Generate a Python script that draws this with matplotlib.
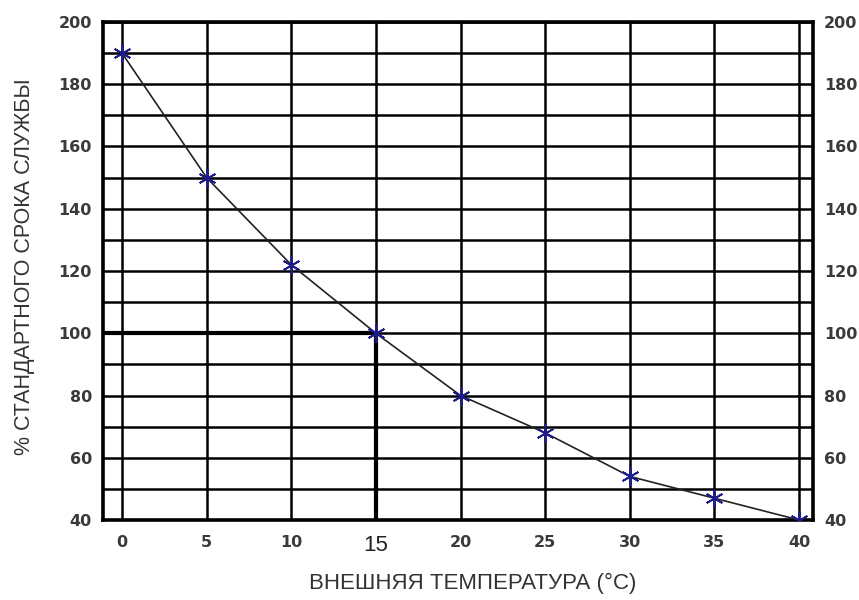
import matplotlib
matplotlib.use("Agg")
import matplotlib.pyplot as plt
import numpy as np

temperature = [0, 5, 10, 15, 20, 25, 30, 35, 40]
service_life_pct = [190, 150, 122, 100, 80, 68, 54, 47, 40]
x_ticks = [0, 5, 10, 15, 20, 25, 30, 35, 40]
y_ticks = [40, 60, 80, 100, 120, 140, 160, 180, 200]
y_grid = list(range(40, 201, 10))
ref_temp = 15
ref_pct = 100

W, H = 859, 600
fig = plt.figure(figsize=(W / 100, H / 100), dpi=100)
left, right, top, bottom = 103, 813, 22, 520
ax = fig.add_axes([left / W, 1 - bottom / H, (right - left) / W, (bottom - top) / H])

x0px, x40px = 122, 799
ppu = (x40px - x0px) / 40
ax.set_xlim((left - x0px) / ppu, (right - x0px) / ppu)
ax.set_ylim(40, 200)

for s in ax.spines.values():
    s.set_linewidth(2.6)
    s.set_color("black")

for xv in x_ticks:
    ax.axvline(xv, color="black", lw=1.8, zorder=1)
for yv in y_grid:
    ax.axhline(yv, color="black", lw=1.8, zorder=1)

# reference lines at 15 °C / 100 %
ax.plot([ax.get_xlim()[0], ref_temp], [ref_pct, ref_pct], color="black", lw=3, zorder=2,
        solid_capstyle="butt")
ax.plot([ref_temp, ref_temp], [40, ref_pct], color="black", lw=3, zorder=2,
        solid_capstyle="butt")

ax.plot(temperature, service_life_pct, color="#222222", lw=1.2, zorder=3)
ax.plot(temperature, service_life_pct, linestyle="none", marker=(6, 2, 0), ms=13,
        mew=1.3, color="#1c1c8a", zorder=4)

ax.set_xticks(x_ticks)
ax.set_xticklabels([str(v) for v in x_ticks])
ax.set_yticks(y_ticks)
ax.set_yticklabels([str(v) for v in y_ticks])
ax.tick_params(axis="both", length=0)
ax.tick_params(axis="y", left=True, right=True, labelleft=True, labelright=True, pad=8)
ax.tick_params(axis="x", pad=11)
for t in ax.yaxis.get_major_ticks():
    for lab in (t.label1, t.label2):
        lab.set_fontsize(11.5)
        lab.set_fontweight("bold")
        lab.set_color("#3a3a3a")
for t, v in zip(ax.xaxis.get_major_ticks(), x_ticks):
    lab = t.label1
    if v == ref_temp:
        lab.set_fontsize(16)
        lab.set_fontweight("normal")
        lab.set_family("Liberation Sans")
        lab.set_color("#222222")
    else:
        lab.set_fontsize(11.5)
        lab.set_fontweight("bold")
        lab.set_color("#3a3a3a")

fig.text(473 / W, 1 - 583 / H, "ВНЕШНЯЯ ТЕМПЕРАТУРА (°C)", ha="center", va="center",
         fontsize=16, family="Liberation Sans", color="#333333")
fig.text(25 / W, 1 - 267 / H, "% СТАНДАРТНОГО СРОКА СЛУЖБЫ", ha="center", va="center",
         rotation=90, fontsize=15.5, family="Liberation Sans", color="#333333")

fig.savefig("out.png", dpi=100)
